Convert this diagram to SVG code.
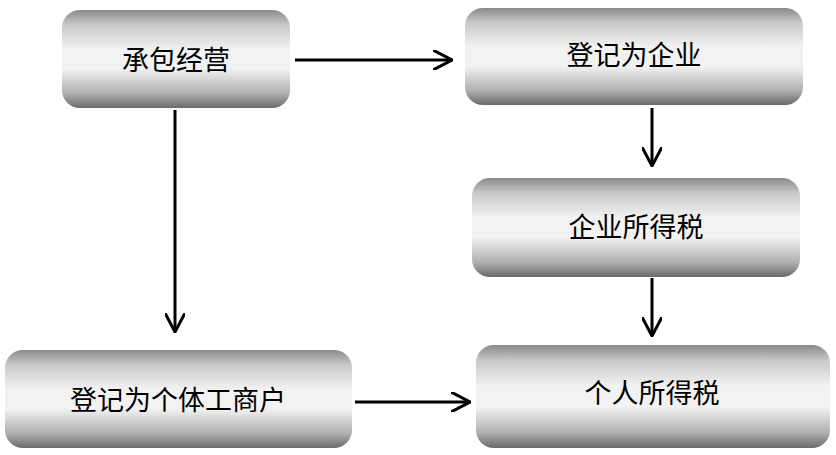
<svg xmlns="http://www.w3.org/2000/svg" width="836" height="455" viewBox="0 0 836 455">
<defs>
<linearGradient id="g" x1="0" y1="0" x2="0" y2="1">
<stop offset="0" stop-color="#8a8a8a"/>
<stop offset="0.15" stop-color="#c8c8c8"/>
<stop offset="0.4" stop-color="#f2f2f2"/>
<stop offset="0.6" stop-color="#f2f2f2"/>
<stop offset="0.85" stop-color="#b0b0b0"/>
<stop offset="1" stop-color="#6a6a6a"/>
</linearGradient>
<marker id="a" viewBox="0 0 10 10" refX="9" refY="5" markerWidth="10" markerHeight="10" markerUnits="userSpaceOnUse" orient="auto">
<path d="M0,0 L10,5 L0,10" fill="none" stroke="#000" stroke-width="2"/>
</marker>
<marker id="b" viewBox="0 0 20 20" refX="19" refY="10" markerWidth="20" markerHeight="20" markerUnits="userSpaceOnUse" orient="auto">
<path d="M0,0 L19,10 L0,20" fill="none" stroke="#000" stroke-width="3"/>
</marker>
</defs>
<style>
.n{fill:url(#g)}
.t{font-family:"Liberation Serif","Noto Sans CJK SC",serif;font-size:27px;fill:#000;text-anchor:middle}
.c{stroke:#000;stroke-width:3;fill:none;marker-end:url(#b)}
</style>
<rect width="836" height="455" fill="#fff"/>
<g id="n1"><rect class="n" x="62" y="10" width="228" height="98" rx="18"/><text class="t" x="176" y="70">承包经营</text></g>
<g id="n2"><rect class="n" x="465" y="8" width="338" height="97" rx="18"/><text class="t" x="634" y="65">登记为企业</text></g>
<g id="n3"><rect class="n" x="472" y="178" width="328" height="99" rx="18"/><text class="t" x="636" y="237">企业所得税</text></g>
<g id="n4"><rect class="n" x="5" y="350" width="347" height="98" rx="18"/><text class="t" x="178" y="410">登记为个体工商户</text></g>
<g id="n5"><rect class="n" x="476" y="345" width="354" height="103" rx="18"/><text class="t" x="652" y="403">个人所得税</text></g>
<g id="connectors">
<path class="c" d="M295,60 L452,60"/>
<path class="c" d="M175,110 L175,332"/>
<path class="c" d="M652,108 L652,166"/>
<path class="c" d="M652,278 L652,336"/>
<path class="c" d="M355,402 L470,402"/>
</g>
</svg>
